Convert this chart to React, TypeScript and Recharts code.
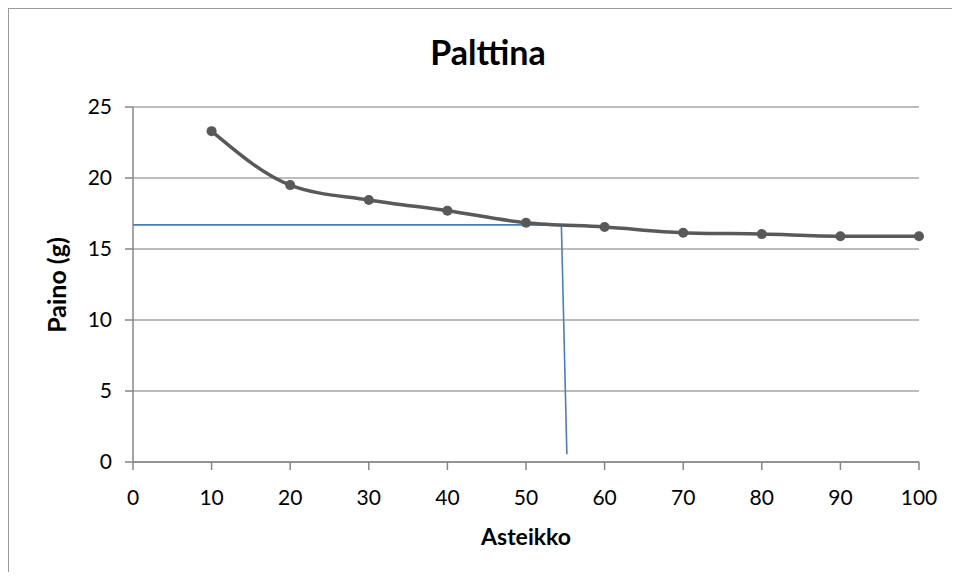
import React from "react"
import { LineChart, Line, XAxis, YAxis, CartesianGrid } from "recharts"

// measured series (Asteikko -> Paino g)
const asteikko = [10, 20, 30, 40, 50, 60, 70, 80, 90, 100]
const paino = [23.3, 19.5, 18.45, 17.7, 16.85, 16.55, 16.15, 16.05, 15.9, 15.9]

// hand drawn blue reading line
const guideX = [0, 54.5, 55.2]
const guideY = [16.7, 16.7, 0.55]

const xTicks = [0, 10, 20, 30, 40, 50, 60, 70, 80, 90, 100]
const yTicks = [0, 5, 10, 15, 20, 25]

const seriesData = asteikko.map((x, i) => ({ x, y: paino[i] }))
const guideData = guideX.map((x, i) => ({ x, y: guideY[i] }))

const font = "Lato, 'Open Sans', sans-serif"
const axisColor = "#868686"

const App: React.FC = () => (
	<div
		style={{
			position: "relative",
			width: 951,
			height: 563,
			borderTop: "1px solid #9a9a9a",
			borderLeft: "1px solid #9a9a9a",
			fontFamily: font,
			background: "#fff",
		}}
	>
		<div
			style={{
				position: "absolute",
				left: 7,
				width: 944,
				top: 26,
				lineHeight: 1,
				textAlign: "center",
				fontWeight: 700,
				fontSize: 34,
				color: "#000",
			}}
		>
			Palttina
		</div>
		<div
			style={{
				position: "absolute",
				left: 47,
				top: 276,
				transform: "translate(-50%, -50%) rotate(-90deg)",
				fontWeight: 700,
				fontSize: 25,
				lineHeight: 1,
				whiteSpace: "nowrap",
				color: "#000",
			}}
		>
			Paino (g)
		</div>
		<LineChart
			width={944}
			height={560}
			margin={{ top: 98, right: 34, bottom: 57, left: 20 }}
		>
			<CartesianGrid vertical={false} stroke="#a6a6a6" strokeWidth={1.3} />
			<XAxis
				dataKey="x"
				type="number"
				domain={[0, 100]}
				ticks={xTicks}
				interval={0}
				height={50}
				tickSize={8}
				tickMargin={20}
				stroke={axisColor}
				strokeWidth={1.5}
				tick={{ fontSize: 21, fill: "#000", fontFamily: font }}
				label={{
					value: "Asteikko",
					position: "bottom",
					offset: 17,
					fontSize: 23,
					fontWeight: 700,
					fill: "#000",
					fontFamily: font,
				}}
			/>
			<YAxis
				dataKey="y"
				type="number"
				domain={[0, 25]}
				ticks={yTicks}
				interval={0}
				width={104}
				tickSize={8}
				tickMargin={13}
				stroke={axisColor}
				strokeWidth={1.5}
				tick={{ fontSize: 21, fill: "#000", fontFamily: font }}
			/>
			<Line
				data={guideData}
				dataKey="y"
				type="linear"
				stroke="#4a7ebb"
				strokeWidth={1.6}
				dot={false}
				activeDot={false}
				isAnimationActive={false}
			/>
			<Line
				data={seriesData}
				dataKey="y"
				type="monotone"
				stroke="#595959"
				strokeWidth={3.5}
				dot={{ r: 5, fill: "#595959", stroke: "none" }}
				activeDot={false}
				isAnimationActive={false}
			/>
		</LineChart>
	</div>
)

export default App
